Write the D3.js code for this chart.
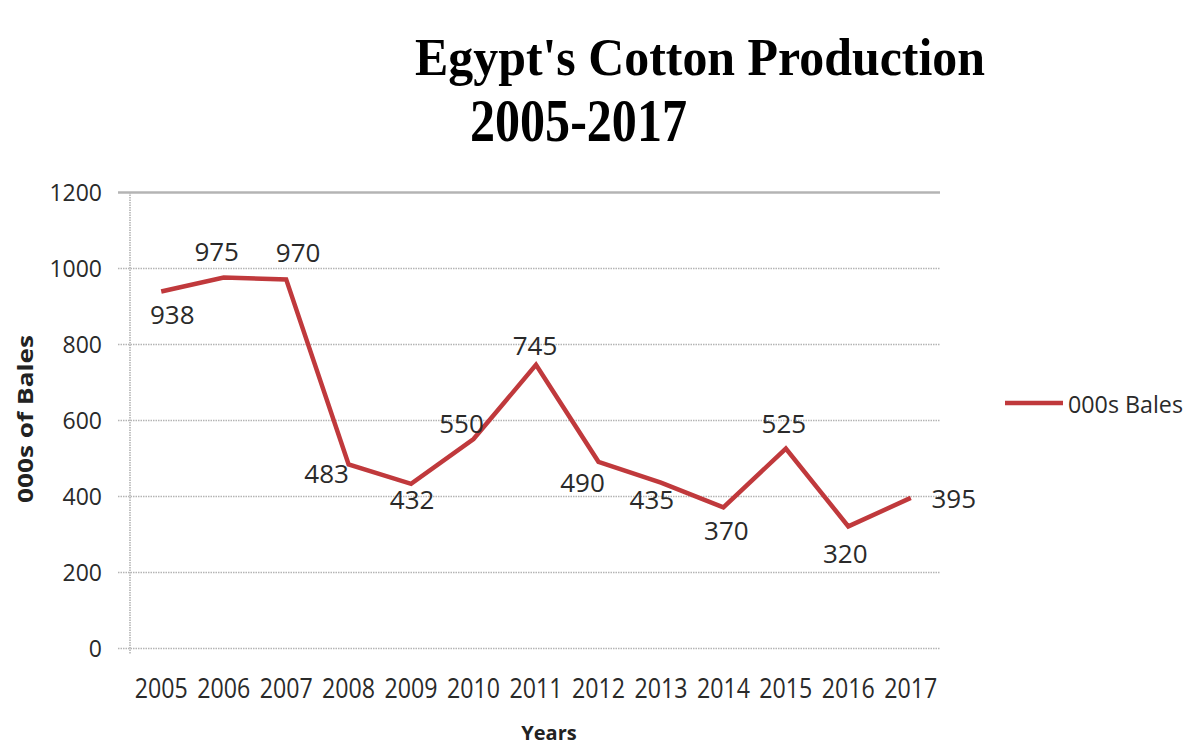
<!DOCTYPE html>
<html>
<head>
<meta charset="utf-8">
<script src="https://cdn.jsdelivr.net/npm/d3@7"></script>
<style>
  body { margin: 0; background: #fff; }
  svg { display: block; }
</style>
</head>
<body>
<svg id="chart" width="1188" height="747"></svg>
<script>
// data
const years = ["2005","2006","2007","2008","2009","2010","2011","2012","2013","2014","2015","2016","2017"];
const bales = [938, 975, 970, 483, 432, 550, 745, 490, 435, 370, 525, 320, 395];
const yTicks = [0, 200, 400, 600, 800, 1000, 1200];
const seriesName = "000s Bales";

// where each data label sits relative to its point (dx to centre, dy to baseline)
const labelOffsets = [
  [11, 32], [-7, -17], [12, -17], [-22, 19], [1, 25], [-12, -6], [-1, -10],
  [-16, 30], [-9, 26], [3, 33], [-2, -16], [-3, 37], [43, 10]
];

const lineColor = "#c0393c";
const svg = d3.select("#chart");
const plotLeft = 130, plotRight = 942, plotTop = 192, plotBottom = 648, gridEnd = 940;

const x = d3.scaleBand().domain(years).range([plotLeft, plotRight]).padding(0);
const y = d3.scaleLinear().domain([0, 1200]).range([plotBottom, plotTop]);
const cx = d => x(d) + x.bandwidth() / 2;

// title
svg.append("text")
  .attr("x", 415).attr("y", 75)
  .attr("textLength", 570).attr("lengthAdjust", "spacingAndGlyphs")
  .style("font-family", "'Liberation Serif', 'Times New Roman', serif")
  .style("font-weight", "bold").style("font-size", "52px")
  .text("Egypt's Cotton Production");
svg.append("text")
  .attr("x", 470).attr("y", 141)
  .attr("textLength", 217).attr("lengthAdjust", "spacingAndGlyphs")
  .style("font-family", "'Liberation Serif', 'Times New Roman', serif")
  .style("font-weight", "bold").style("font-size", "62px")
  .text("2005-2017");

// gridlines + y axis
const yAxis = d3.axisLeft(y).tickValues(yTicks).tickFormat(d3.format("d")).tickSize(0).tickPadding(0);
const gy = svg.append("g").attr("transform", `translate(${plotLeft - 12},0)`).call(yAxis);
gy.select(".domain").remove();
gy.selectAll(".tick line")
  .attr("x1", 0).attr("x2", gridEnd - plotLeft + 12)
  .attr("stroke", "#b4b4b4")
  .attr("stroke-width", d => d === 1200 ? 2.5 : 1.6)
  .attr("stroke-dasharray", d => d === 1200 ? null : "1.5,1");
gy.selectAll(".tick text")
  .attr("x", -16).attr("dy", "0.35em")
  .style("font-family", "'Open Sans', sans-serif")
  .style("font-size", "23px").attr("fill", "#2a2a2a");

// vertical axis line
svg.append("line")
  .attr("x1", plotLeft).attr("x2", plotLeft).attr("y1", plotTop).attr("y2", plotBottom + 6)
  .attr("stroke", "#b4b4b4").attr("stroke-width", 1.6).attr("stroke-dasharray", "1.5,1");

// x axis labels
const xAxis = d3.axisBottom(x).tickSize(0).tickPadding(0);
const gx = svg.append("g").attr("transform", `translate(0,${plotBottom})`).call(xAxis);
gx.select(".domain").remove();
gx.selectAll(".tick text")
  .attr("y", 50).attr("dy", 0)
  .attr("textLength", 53).attr("lengthAdjust", "spacingAndGlyphs")
  .style("font-family", "'Open Sans', sans-serif")
  .style("font-size", "27px").attr("fill", "#2a2a2a");

// axis titles
svg.append("text")
  .attr("transform", "translate(33,419) rotate(-90)")
  .attr("text-anchor", "middle")
  .attr("textLength", 168).attr("lengthAdjust", "spacingAndGlyphs")
  .style("font-family", "'Open Sans', sans-serif")
  .style("font-weight", "bold").style("font-size", "22px").attr("fill", "#222")
  .text("000s of Bales");
svg.append("text")
  .attr("x", 549).attr("y", 740)
  .attr("text-anchor", "middle")
  .style("font-family", "'Open Sans', sans-serif")
  .style("font-weight", "bold").style("font-size", "20px").attr("fill", "#222")
  .text("Years");

// line
const line = d3.line()
  .x((d, i) => cx(years[i]))
  .y(d => y(d));
svg.append("path")
  .datum(bales)
  .attr("d", line)
  .attr("fill", "none")
  .attr("stroke", lineColor)
  .attr("stroke-width", 4.5)
  .attr("stroke-linejoin", "miter");

// data labels
svg.append("g").selectAll("text")
  .data(bales)
  .join("text")
  .attr("x", (d, i) => cx(years[i]) + labelOffsets[i][0])
  .attr("y", (d, i) => y(d) + labelOffsets[i][1])
  .attr("text-anchor", "middle")
  .style("font-family", "'Open Sans', sans-serif")
  .style("font-size", "26px").attr("fill", "#2a2a2a")
  .text(d => d);

// legend
const lg = svg.append("g").attr("transform", "translate(1005,403)");
lg.append("line").attr("x1", 0).attr("x2", 58).attr("y1", 0).attr("y2", 0)
  .attr("stroke", lineColor).attr("stroke-width", 4.5);
lg.append("text")
  .attr("x", 63).attr("y", 10)
  .attr("textLength", 115).attr("lengthAdjust", "spacingAndGlyphs")
  .style("font-family", "'Open Sans', sans-serif")
  .style("font-size", "24px").attr("fill", "#2a2a2a")
  .text(seriesName);
</script>
</body>
</html>
